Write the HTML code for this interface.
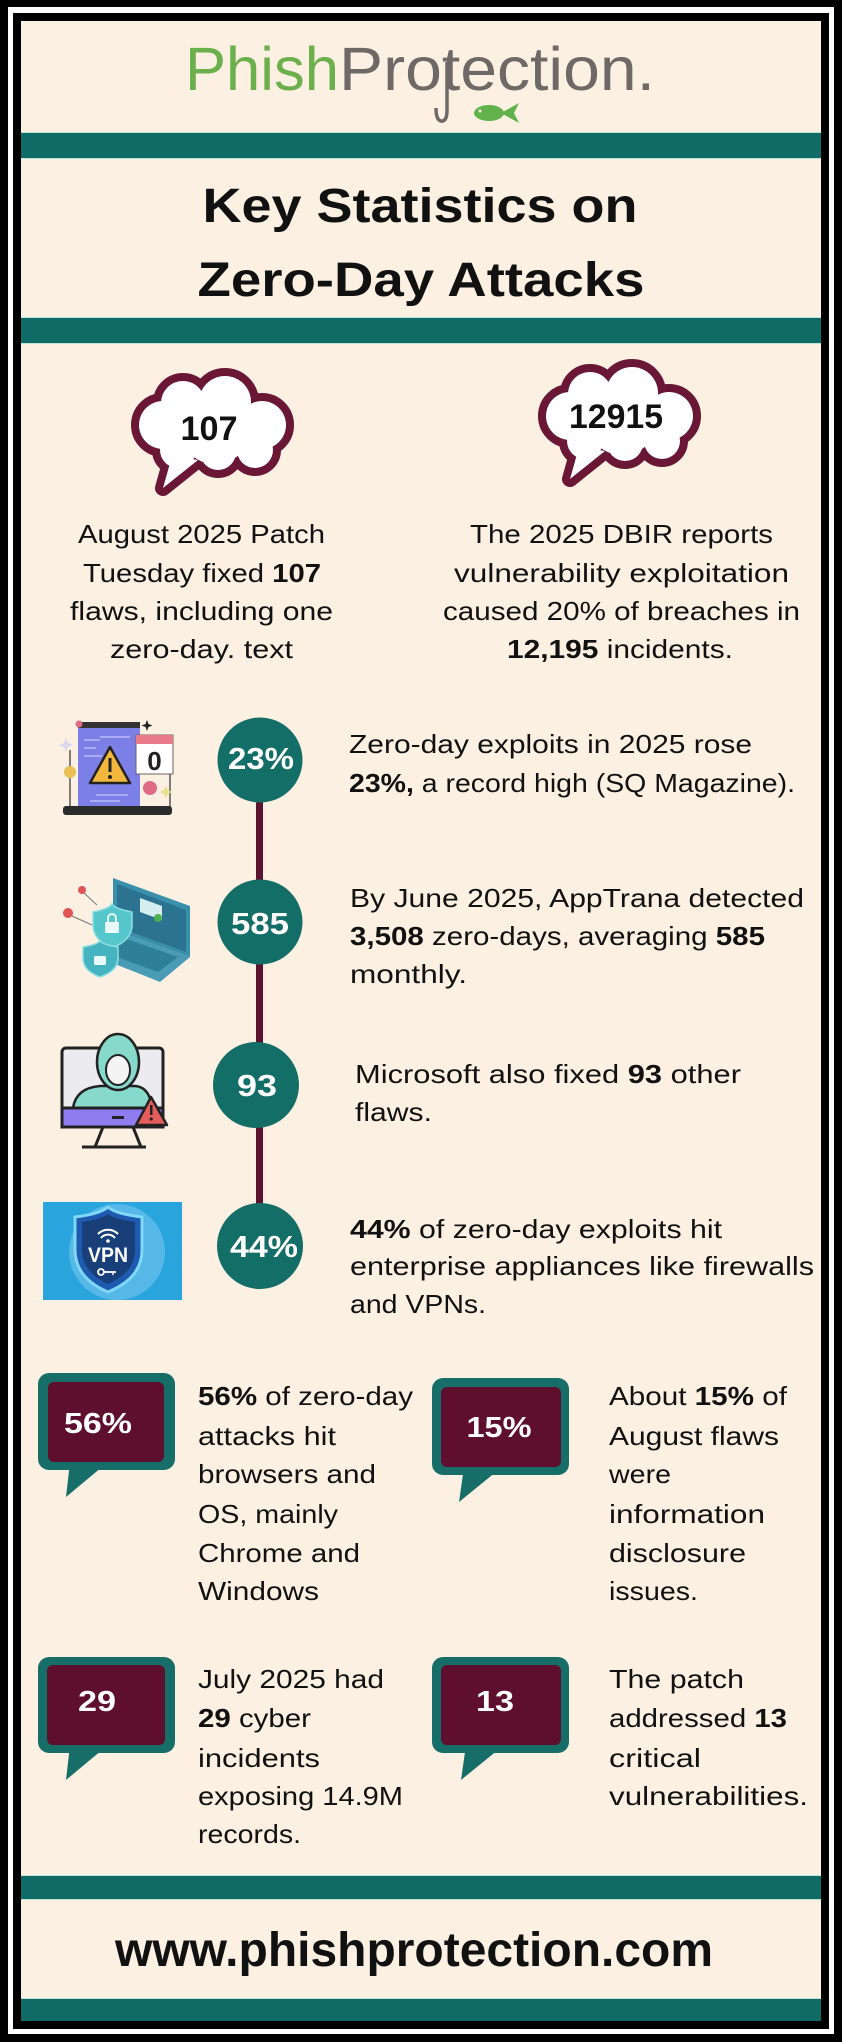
<!DOCTYPE html>
<html><head><meta charset="utf-8"><style>
html,body{margin:0;padding:0;background:#000;}
svg{display:block;}
text{font-family:"Liberation Sans",sans-serif;}
</style></head><body>
<svg width="842" height="2042" viewBox="0 0 842 2042" xmlns="http://www.w3.org/2000/svg">
<defs>
<g id="cloud">
 <g fill="#6a1736" stroke="#6a1736" stroke-width="16" stroke-linejoin="round">
  <circle cx="163" cy="425" r="24"/><circle cx="183" cy="403" r="22"/><circle cx="225" cy="402" r="26"/>
  <circle cx="262" cy="425" r="24"/><circle cx="178" cy="450" r="18"/><circle cx="218" cy="452" r="18"/>
  <circle cx="255" cy="450" r="18"/><circle cx="215" cy="428" r="36"/>
  <polygon points="172,456 198,460 163,488"/>
 </g>
 <g fill="#fff">
  <circle cx="163" cy="425" r="24"/><circle cx="183" cy="403" r="22"/><circle cx="225" cy="402" r="26"/>
  <circle cx="262" cy="425" r="24"/><circle cx="178" cy="450" r="18"/><circle cx="218" cy="452" r="18"/>
  <circle cx="255" cy="450" r="18"/><circle cx="215" cy="428" r="36"/>
  <polygon points="172,456 198,460 163,488"/>
 </g>
</g>
</defs>

<!-- frame -->
<rect x="0" y="0" width="842" height="2042" fill="#000"/>
<rect x="8" y="7" width="826" height="2027" fill="#fff"/>
<rect x="13" y="13" width="816" height="2016" fill="#000"/>
<rect x="21" y="21" width="800" height="2000" fill="#fcf0e2"/>

<!-- bands -->
<rect x="21" y="132" width="800" height="27" fill="#bfe5da"/>
<rect x="21" y="133" width="800" height="25" fill="#0f6b66"/>
<rect x="21" y="317" width="800" height="27" fill="#bfe5da"/>
<rect x="21" y="318" width="800" height="25" fill="#0f6b66"/>
<rect x="21" y="1875" width="800" height="25" fill="#bfe5da"/>
<rect x="21" y="1876" width="800" height="23" fill="#0f6b66"/>
<rect x="21" y="1998" width="800" height="23" fill="#bfe5da"/>
<rect x="21" y="1999" width="800" height="22" fill="#0f6b66"/>

<!-- logo -->
<text x="185" y="90" font-size="61" fill="#6cb04e" textLength="154" lengthAdjust="spacingAndGlyphs">Phish</text>
<text x="339" y="90" font-size="61" fill="#6e6966" textLength="316" lengthAdjust="spacingAndGlyphs">Protection.</text>
<path d="M447,62 L447,110 Q447,122 441,121 Q436,120 436,108" stroke="#6e6966" stroke-width="3.5" fill="none"/>
<ellipse cx="489" cy="113" rx="15" ry="8" fill="#62b24c"/>
<polygon points="501,113 519,103 514,113 519,123" fill="#62b24c"/>
<circle cx="480" cy="111" r="1.5" fill="#fcf0e2"/>

<!-- title -->
<text x="420" y="222" font-size="48" font-weight="bold" fill="#111" text-anchor="middle" textLength="435" lengthAdjust="spacingAndGlyphs">Key Statistics on</text>
<text x="421" y="296" font-size="48" font-weight="bold" fill="#111" text-anchor="middle" textLength="447" lengthAdjust="spacingAndGlyphs">Zero-Day Attacks</text>

<!-- clouds -->
<use href="#cloud"/>
<use href="#cloud" transform="translate(407,-9)"/>
<text x="209" y="440" font-size="34" font-weight="bold" fill="#111" text-anchor="middle" textLength="57" lengthAdjust="spacingAndGlyphs">107</text>
<text x="616" y="428" font-size="34" font-weight="bold" fill="#111" text-anchor="middle" textLength="94" lengthAdjust="spacingAndGlyphs">12915</text>

<g font-size="26" fill="#111">
<text x="78" y="543" textLength="247" lengthAdjust="spacingAndGlyphs">August 2025 Patch</text>
<text x="83" y="582" textLength="238" lengthAdjust="spacingAndGlyphs">Tuesday fixed <tspan font-weight="bold">107</tspan></text>
<text x="70" y="620" textLength="263" lengthAdjust="spacingAndGlyphs">flaws, including one</text>
<text x="110" y="658" textLength="183" lengthAdjust="spacingAndGlyphs">zero-day. text</text>

<text x="470" y="543" textLength="303" lengthAdjust="spacingAndGlyphs">The 2025 DBIR reports</text>
<text x="454" y="582" textLength="335" lengthAdjust="spacingAndGlyphs">vulnerability exploitation</text>
<text x="443" y="620" textLength="357" lengthAdjust="spacingAndGlyphs">caused 20% of breaches in</text>
<text x="507" y="658" textLength="226" lengthAdjust="spacingAndGlyphs"><tspan font-weight="bold">12,195</tspan> incidents.</text>

<text x="349" y="753" textLength="403" lengthAdjust="spacingAndGlyphs">Zero-day exploits in 2025 rose</text>
<text x="349" y="792" textLength="446" lengthAdjust="spacingAndGlyphs"><tspan font-weight="bold">23%,</tspan> a record high (SQ Magazine).</text>
<text x="350" y="907" textLength="454" lengthAdjust="spacingAndGlyphs">By June 2025, AppTrana detected</text>
<text x="350" y="945" textLength="415" lengthAdjust="spacingAndGlyphs"><tspan font-weight="bold">3,508</tspan> zero-days, averaging <tspan font-weight="bold">585</tspan></text>
<text x="350" y="983" textLength="117" lengthAdjust="spacingAndGlyphs">monthly.</text>
<text x="355" y="1083" textLength="386" lengthAdjust="spacingAndGlyphs">Microsoft also fixed <tspan font-weight="bold">93</tspan> other</text>
<text x="355" y="1121" textLength="77" lengthAdjust="spacingAndGlyphs">flaws.</text>
<text x="350" y="1238" textLength="372" lengthAdjust="spacingAndGlyphs"><tspan font-weight="bold">44%</tspan> of zero-day exploits hit</text>
<text x="350" y="1275" textLength="464" lengthAdjust="spacingAndGlyphs">enterprise appliances like firewalls</text>
<text x="350" y="1313" textLength="136" lengthAdjust="spacingAndGlyphs">and VPNs.</text>

<text x="198" y="1405" textLength="215" lengthAdjust="spacingAndGlyphs"><tspan font-weight="bold">56%</tspan> of zero-day</text>
<text x="198" y="1445" textLength="138" lengthAdjust="spacingAndGlyphs">attacks hit</text>
<text x="198" y="1483" textLength="178" lengthAdjust="spacingAndGlyphs">browsers and</text>
<text x="198" y="1523" textLength="140" lengthAdjust="spacingAndGlyphs">OS, mainly</text>
<text x="198" y="1562" textLength="162" lengthAdjust="spacingAndGlyphs">Chrome and</text>
<text x="198" y="1600" textLength="121" lengthAdjust="spacingAndGlyphs">Windows</text>

<text x="609" y="1405" textLength="178" lengthAdjust="spacingAndGlyphs">About <tspan font-weight="bold">15%</tspan> of</text>
<text x="609" y="1445" textLength="170" lengthAdjust="spacingAndGlyphs">August flaws</text>
<text x="609" y="1483" textLength="62" lengthAdjust="spacingAndGlyphs">were</text>
<text x="609" y="1523" textLength="156" lengthAdjust="spacingAndGlyphs">information</text>
<text x="609" y="1562" textLength="137" lengthAdjust="spacingAndGlyphs">disclosure</text>
<text x="609" y="1600" textLength="89" lengthAdjust="spacingAndGlyphs">issues.</text>

<text x="198" y="1688" textLength="186" lengthAdjust="spacingAndGlyphs">July 2025 had</text>
<text x="198" y="1727" textLength="113" lengthAdjust="spacingAndGlyphs"><tspan font-weight="bold">29</tspan> cyber</text>
<text x="198" y="1767" textLength="122" lengthAdjust="spacingAndGlyphs">incidents</text>
<text x="198" y="1805" textLength="205" lengthAdjust="spacingAndGlyphs">exposing 14.9M</text>
<text x="198" y="1843" textLength="103" lengthAdjust="spacingAndGlyphs">records.</text>

<text x="609" y="1688" textLength="135" lengthAdjust="spacingAndGlyphs">The patch</text>
<text x="609" y="1727" textLength="178" lengthAdjust="spacingAndGlyphs">addressed <tspan font-weight="bold">13</tspan></text>
<text x="609" y="1767" textLength="92" lengthAdjust="spacingAndGlyphs">critical</text>
<text x="609" y="1805" textLength="199" lengthAdjust="spacingAndGlyphs">vulnerabilities.</text>
</g>

<!-- timeline -->
<rect x="256" y="790" width="7" height="420" fill="#5b1430"/>
<g fill="#146e68">
<circle cx="260" cy="760" r="42.5"/>
<circle cx="260" cy="922" r="42.5"/>
<circle cx="256" cy="1085" r="43"/>
<circle cx="260" cy="1246" r="43"/>
</g>
<g font-size="31" font-weight="bold" fill="#fff" text-anchor="middle">
<text x="261" y="769" textLength="66" lengthAdjust="spacingAndGlyphs">23%</text>
<text x="260" y="934" textLength="58" lengthAdjust="spacingAndGlyphs">585</text>
<text x="257" y="1096" textLength="40" lengthAdjust="spacingAndGlyphs">93</text>
<text x="264" y="1257" textLength="68" lengthAdjust="spacingAndGlyphs">44%</text>
</g>

<!-- bubbles -->
<g fill="#176e68">
<rect x="38" y="1373" width="137" height="97" rx="11"/>
<polygon points="70,1462 108,1462 66,1497"/>
<rect x="432" y="1378" width="137" height="97" rx="11"/>
<polygon points="464,1467 502,1467 459,1502"/>
<rect x="38" y="1657" width="137" height="96" rx="11"/>
<polygon points="70,1745 108,1745 66,1780"/>
<rect x="432" y="1657" width="137" height="96" rx="11"/>
<polygon points="466,1745 504,1745 461,1780"/>
</g>
<g fill="#5e0f2d">
<rect x="48" y="1382" width="116" height="80" rx="6"/>
<rect x="441" y="1387" width="120" height="80" rx="6"/>
<rect x="47" y="1665" width="118" height="80" rx="6"/>
<rect x="441" y="1665" width="120" height="80" rx="6"/>
</g>
<g font-size="29" font-weight="bold" fill="#fff" text-anchor="middle">
<text x="98" y="1433" textLength="68" lengthAdjust="spacingAndGlyphs">56%</text>
<text x="499" y="1437" textLength="65" lengthAdjust="spacingAndGlyphs">15%</text>
<text x="97" y="1711" textLength="38" lengthAdjust="spacingAndGlyphs">29</text>
<text x="495" y="1711" textLength="38" lengthAdjust="spacingAndGlyphs">13</text>
</g>

<!-- icon 1: laptop warning -->
<g>
<rect x="78" y="725" width="62" height="82" fill="#7c80e6"/>
<rect x="78" y="722" width="62" height="6" fill="#333"/>
<circle cx="79" cy="724" r="3.5" fill="#e06b85"/>
<g stroke="#b9bcf5" stroke-width="1.5">
<line x1="84" y1="740" x2="100" y2="740"/><line x1="84" y1="748" x2="96" y2="748"/>
<line x1="84" y1="756" x2="102" y2="756"/><line x1="96" y1="795" x2="128" y2="795"/>
<line x1="90" y1="801" x2="120" y2="801"/><line x1="100" y1="737" x2="130" y2="737"/>
</g>
<line x1="70" y1="750" x2="70" y2="807" stroke="#555" stroke-width="1.5"/>
<line x1="170" y1="774" x2="170" y2="807" stroke="#555" stroke-width="1.5"/>
<rect x="63" y="806" width="109" height="9" rx="3" fill="#2b2b2b"/>
<rect x="136" y="735" width="37" height="39" fill="#fff" stroke="#666" stroke-width="1"/>
<rect x="136" y="735" width="37" height="9" fill="#e87a8a"/>
<text x="154.5" y="770" font-size="26" font-weight="bold" fill="#222" text-anchor="middle">0</text>
<polygon points="110,747 90,783 130,783" fill="#f4b73e" stroke="#222" stroke-width="2.5" stroke-linejoin="round"/>
<rect x="108.5" y="758" width="3" height="14" fill="#222"/>
<circle cx="110" cy="777" r="2" fill="#222"/>
<circle cx="150" cy="788" r="7" fill="#e06b85"/>
<circle cx="70" cy="772" r="6" fill="#e8c056"/>
<path d="M66,738 l2,5 l5,2 l-5,2 l-2,5 l-2,-5 l-5,-2 l5,-2z" fill="#d8d6ef"/>
<path d="M166,786 l2,4 l4,2 l-4,2 l-2,4 l-2,-4 l-4,-2 l4,-2z" fill="#e2e08a"/>
<path d="M147,720 l1.5,4 l4,1.5 l-4,1.5 l-1.5,4 l-1.5,-4 l-4,-1.5 l4,-1.5z" fill="#222"/>
</g>

<!-- icon 2: teal laptop -->
<g>
<polygon points="113,878 190,906 190,957 113,930" fill="#3a8fab"/>
<polygon points="117,884 186,910 186,952 117,927" fill="#2c7391"/>
<polygon points="140,898 162,906 162,920 140,912" fill="#d6eef2"/>
<circle cx="158" cy="918" r="4" fill="#4caf50"/>
<polygon points="113,930 190,957 160,982 85,952" fill="#4a9bb5"/>
<polygon points="118,936 178,957 158,972 100,951" fill="#2f7f99"/>
<path d="M93,912 Q112,908 112,903 Q112,908 132,912 L132,925 Q132,940 112,948 Q93,940 93,925Z" fill="#55c6cc" stroke="#8fe0e2" stroke-width="1.5"/>
<rect x="105" y="922" width="14" height="11" rx="1.5" fill="#e8fafa"/>
<path d="M108,922 v-4 a4,4 0 0 1 8,0 v4" stroke="#e8fafa" stroke-width="2" fill="none"/>
<path d="M83,947 Q100,944 100,940 Q100,944 118,947 L118,958 Q118,971 100,977 Q83,971 83,958Z" fill="#46b4c0" stroke="#8fe0e2" stroke-width="1.5"/>
<rect x="94" y="956" width="12" height="9" rx="1.5" fill="#e8fafa"/>
<circle cx="82" cy="890" r="4" fill="#e05555"/>
<circle cx="68" cy="913" r="5" fill="#e05555"/>
<line x1="84" y1="893" x2="97" y2="905" stroke="#777" stroke-width="1"/>
<line x1="72" y1="916" x2="92" y2="925" stroke="#777" stroke-width="1"/>
</g>

<!-- icon 3: hacker monitor -->
<g>
<rect x="62" y="1048" width="101" height="79" rx="4" fill="#ececf0" stroke="#222" stroke-width="3"/>
<path d="M73,1108 Q76,1088 100,1086 L136,1086 Q150,1088 152,1108Z" fill="#86d9cb" stroke="#222" stroke-width="2.5"/>
<ellipse cx="118" cy="1062" rx="21" ry="28" fill="#86d9cb" stroke="#222" stroke-width="2.5"/>
<ellipse cx="118" cy="1070" rx="12" ry="15" fill="#f4f4f4" stroke="#222" stroke-width="2"/>
<rect x="62" y="1108" width="101" height="19" fill="#8e7cf0" stroke="#222" stroke-width="3"/>
<rect x="112" y="1116" width="12" height="3" fill="#222"/>
<line x1="103" y1="1127" x2="95" y2="1147" stroke="#222" stroke-width="3"/>
<line x1="133" y1="1127" x2="141" y2="1147" stroke="#222" stroke-width="3"/>
<line x1="82" y1="1147" x2="146" y2="1147" stroke="#222" stroke-width="3"/>
<polygon points="151,1097 136,1125 167,1125" fill="#e35d5d" stroke="#222" stroke-width="2.5" stroke-linejoin="round"/>
<rect x="150" y="1105" width="2.5" height="10" fill="#222"/>
<circle cx="151.2" cy="1119" r="1.6" fill="#222"/>
</g>

<!-- icon 4: VPN -->
<g>
<rect x="43" y="1202" width="139" height="98" fill="#2aa4dd"/>
<circle cx="117" cy="1252" r="48" fill="#56b8e6"/>
<path d="M75,1217 Q100,1214 108,1207 Q116,1214 142,1217 L142,1250 Q142,1278 108,1292 Q75,1278 75,1250Z" fill="#1e5bb0" stroke="#7fd8f8" stroke-width="3"/>
<path d="M82,1222 Q102,1219 108,1214 Q114,1219 135,1222 L135,1250 Q135,1272 108,1284 Q82,1272 82,1250Z" fill="#183f78"/>
<path d="M98,1234 a14,14 0 0 1 20,0 M101,1238 a9,9 0 0 1 14,0" stroke="#fff" stroke-width="2" fill="none"/>
<circle cx="108" cy="1241" r="1.8" fill="#fff"/>
<text x="108" y="1262" font-size="21" font-weight="bold" fill="#fff" text-anchor="middle" textLength="40" lengthAdjust="spacingAndGlyphs">VPN</text>
<circle cx="101" cy="1272" r="3" stroke="#fff" stroke-width="1.8" fill="none"/>
<line x1="104" y1="1272" x2="116" y2="1272" stroke="#fff" stroke-width="1.8"/>
<line x1="113" y1="1272" x2="113" y2="1275" stroke="#fff" stroke-width="1.5"/>
</g>

<!-- footer -->
<text x="414" y="1966" font-size="48" font-weight="bold" fill="#111" text-anchor="middle" textLength="598" lengthAdjust="spacingAndGlyphs">www.phishprotection.com</text>
</svg>
</body></html>
